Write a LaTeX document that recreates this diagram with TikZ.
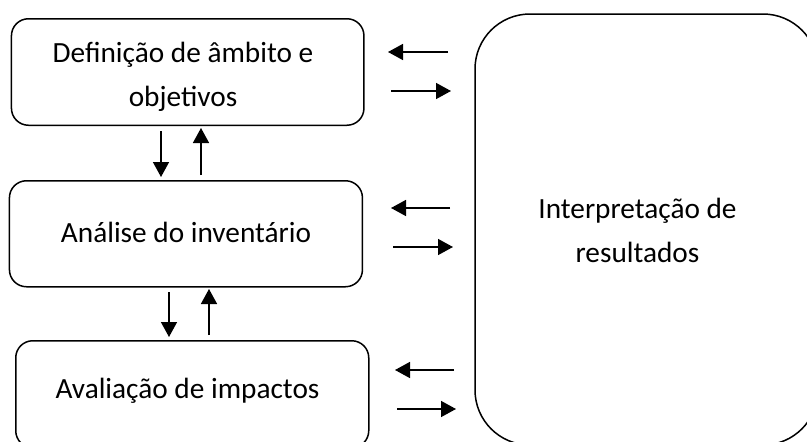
\documentclass[tikz,border=0pt]{standalone}
\usepackage{fontspec}
\setmainfont{Carlito}
\usetikzlibrary{arrows.meta}
\begin{document}
\begin{tikzpicture}[x=1pt,y=-1pt,
  stagebox/.style={draw=black,line width=1.5pt,rounded corners=17pt,anchor=north west,inner sep=0pt},
  stagetext/.style={inner sep=0pt,align=center,font=\fontsize{29.3}{44}\selectfont},
  flow/.style={draw=black,line width=1.5pt,-{Triangle[length=15pt,width=16pt]}}]
\useasboundingbox (0,0) rectangle (807,442);
\fill[white] (0,0) rectangle (807,442);
\node[stagebox,minimum width=352.5pt,minimum height=106.5pt] (def) at (10.7,18) {};
\node[stagebox,minimum width=353pt,minimum height=106pt] (ana) at (8.7,180) {};
\node[stagebox,minimum width=353pt,minimum height=107pt] (ava) at (15,340) {};
\draw[line width=1.5pt,rounded corners=55pt] (475,445) -- (475,14) -- (818,14) -- (818,445) -- cycle;
\node[stagetext] (deft) at (183,77) {Definição de âmbito e\\objetivos};
\node[stagetext] (anat) at (186,232) {Análise do inventário};
\node[stagetext] (avat) at (187.5,390.5) {Avaliação de impactos};
\node[stagetext] (int) at (637.5,230.5) {Interpretação de\\resultados};
\coordinate (a1) at (448,52); \coordinate (a1e) at (388,52);
\coordinate (a2) at (391,91); \coordinate (a2e) at (451,91);
\coordinate (a3) at (450,208); \coordinate (a3e) at (391,208);
\coordinate (a4) at (393,247); \coordinate (a4e) at (453,247);
\coordinate (a5) at (454,370); \coordinate (a5e) at (395,370);
\coordinate (a6) at (397,409); \coordinate (a6e) at (456,409);
\coordinate (d1) at (161,131); \coordinate (d1e) at (161,177);
\coordinate (d2) at (201,175); \coordinate (d2e) at (201,128);
\coordinate (d3) at (169,292); \coordinate (d3e) at (169,337);
\coordinate (d4) at (209,335); \coordinate (d4e) at (209,289);
\foreach \s/\t in {a1/a1e,a2/a2e,a3/a3e,a4/a4e,a5/a5e,a6/a6e,d1/d1e,d2/d2e,d3/d3e,d4/d4e}
  \draw[flow] (\s) -- (\t);
\end{tikzpicture}
\end{document}
